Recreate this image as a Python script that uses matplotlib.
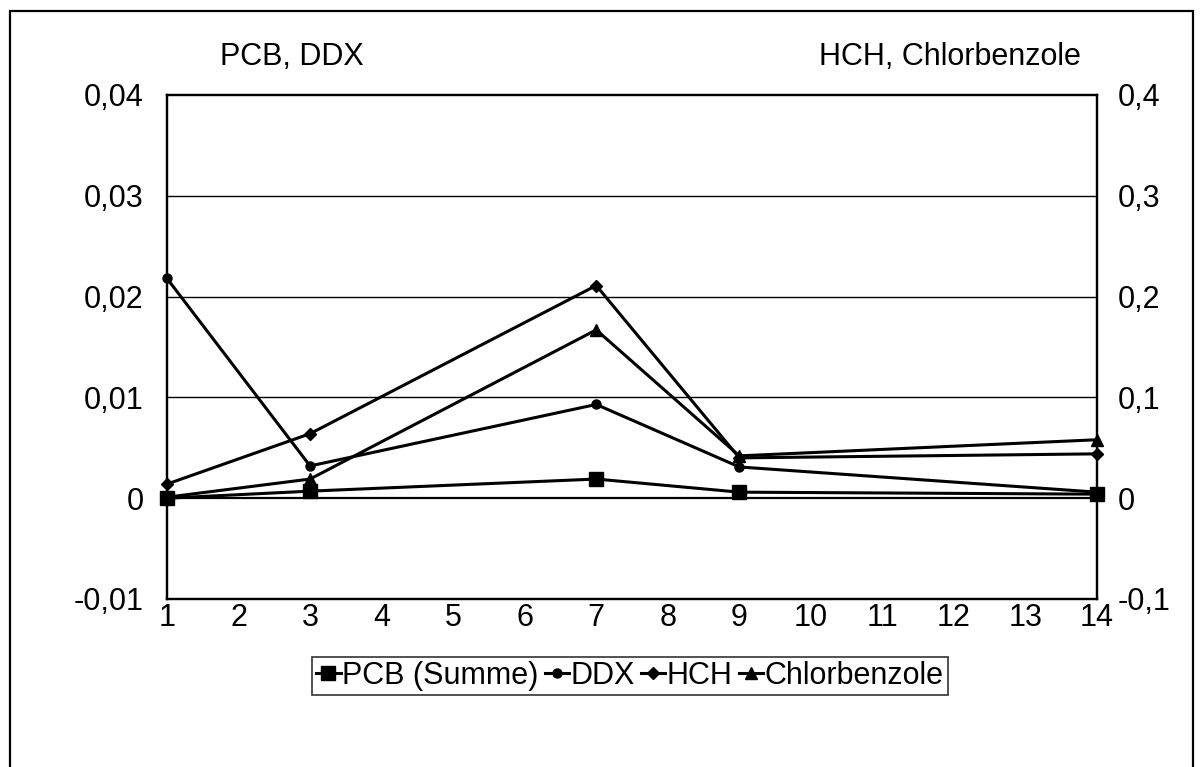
import matplotlib
matplotlib.use("Agg")
import matplotlib.pyplot as plt
from matplotlib.lines import Line2D
from matplotlib.patches import Rectangle

plt.rcParams['font.family'] = ['Liberation Sans', 'DejaVu Sans']

# data
x = [1, 3, 7, 9, 14]
pcb = [0.0, 0.0007, 0.0019, 0.0006, 0.0004]        # left axis
ddx = [0.0218, 0.0032, 0.0093, 0.0031, 0.0006]     # left axis
hch = [0.014, 0.064, 0.211, 0.040, 0.044]          # right axis
chlor = [0.001, 0.019, 0.167, 0.042, 0.058]        # right axis

left_ticks = [-0.01, 0, 0.01, 0.02, 0.03, 0.04]
left_labels = ["-0,01", "0", "0,01", "0,02", "0,03", "0,04"]
right_ticks = [-0.1, 0, 0.1, 0.2, 0.3, 0.4]
right_labels = ["-0,1", "0", "0,1", "0,2", "0,3", "0,4"]
x_ticks = list(range(1, 15))

FS = 22
W, H = 1203, 767
fig = plt.figure(figsize=(W / 100, H / 100), dpi=100)
fig.patches.append(Rectangle((10 / W, -0.01), 1183 / W, 1 - 11 / H + 0.01,
                             transform=fig.transFigure, fill=False,
                             edgecolor="black", lw=1.6))

ax = fig.add_axes([167 / W, 1 - 599 / H, 930 / W, 504 / H])
ax2 = ax.twinx()

ax.set_xlim(1, 14)
ax.set_ylim(-0.01, 0.04)
ax2.set_ylim(-0.1, 0.4)

for g in [0.01, 0.02, 0.03]:
    ax.axhline(g, color="black", lw=1.0, zorder=1)
ax.axhline(0, color="black", lw=1.6, zorder=1)

lk = dict(color="black", lw=2.2, clip_on=False, zorder=3)
ax.plot(x, pcb, marker="s", ms=9.5, **lk)
ax.plot(x, ddx, marker="o", ms=6.5, **lk)
ax2.plot(x, hch, marker="D", ms=6.5, **lk)
ax2.plot(x, chlor, marker="^", ms=8.5, **lk)

ax.set_xticks(x_ticks)
ax.set_xticklabels([str(t) for t in x_ticks], fontsize=FS)
ax.set_yticks(left_ticks)
ax.set_yticklabels(left_labels, fontsize=FS)
ax2.set_yticks(right_ticks)
ax2.set_yticklabels(right_labels, fontsize=FS)
ax.tick_params(axis="x", length=0, pad=3)
ax.tick_params(axis="y", length=0, pad=17)
ax2.tick_params(axis="y", length=0, pad=15)
for a in (ax, ax2):
    for s in a.spines.values():
        s.set_linewidth(1.6)

fig.text(220 / W, 1 - 57 / H, "PCB, DDX", fontsize=FS, ha="left", va="center")
fig.text(1081 / W, 1 - 57 / H, "HCH, Chlorbenzole", fontsize=FS, ha="right", va="center")

handles = [
    Line2D([], [], color="black", lw=2.2, marker="s", ms=9.5),
    Line2D([], [], color="black", lw=2.2, marker="o", ms=6.5),
    Line2D([], [], color="black", lw=2.2, marker="D", ms=6.5),
    Line2D([], [], color="black", lw=2.2, marker="^", ms=8.5),
]
names = ["PCB (Summe)", "DDX", "HCH", "Chlorbenzole"]
leg = fig.legend(handles, names, loc="center", bbox_to_anchor=(630 / W, 1 - 676 / H),
                 ncol=4, fontsize=FS, frameon=True, fancybox=False, shadow=False,
                 handlelength=0.8, handletextpad=0.05, columnspacing=0.2,
                 borderpad=0.12, borderaxespad=0)
leg.get_frame().set_edgecolor("black")
leg.get_frame().set_linewidth(1.2)

fig.savefig("out.png", dpi=100)
